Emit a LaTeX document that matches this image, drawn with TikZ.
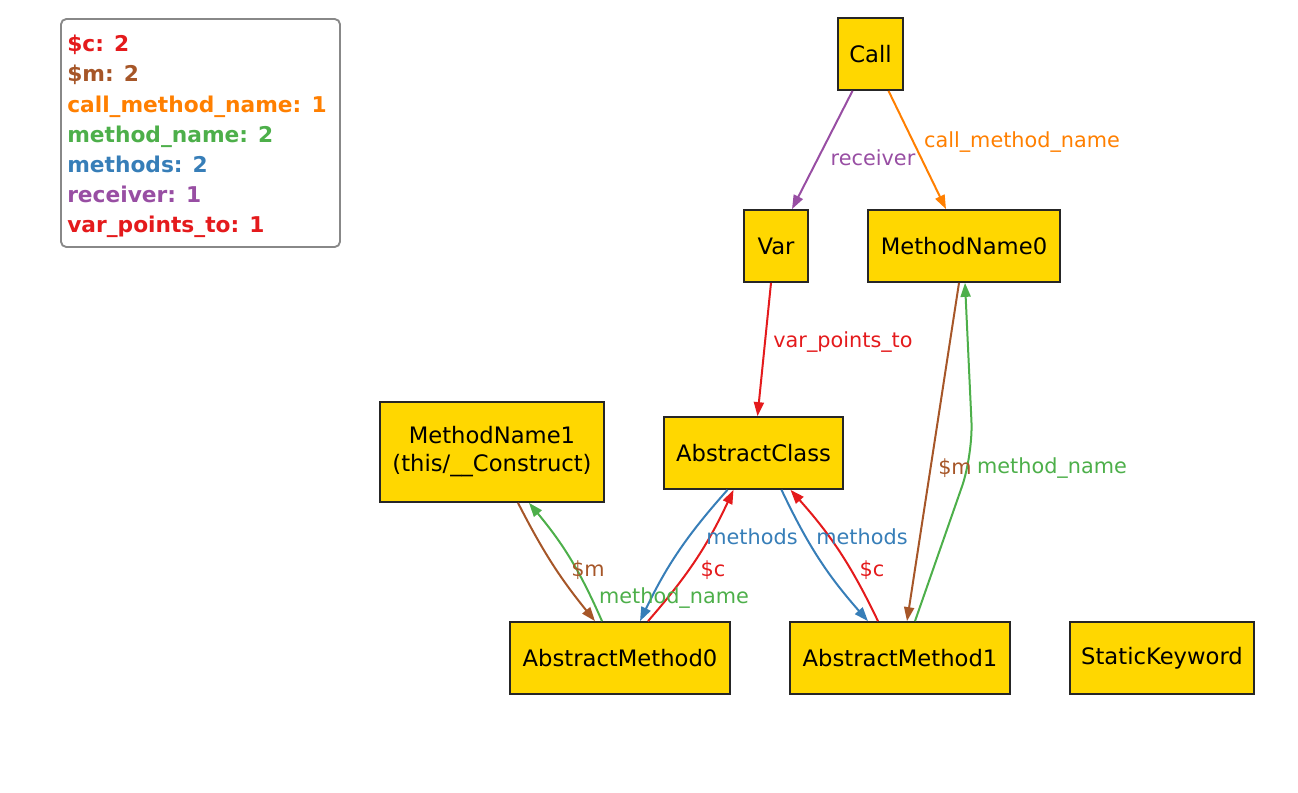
\documentclass[tikz,border=0pt]{standalone}
\usepackage{fontspec}
\setmainfont{DejaVu Sans}
\usetikzlibrary{arrows.meta,calc}
\definecolor{cred}{HTML}{E41A1C}
\definecolor{cbrown}{HTML}{A65628}
\definecolor{corange}{HTML}{FF7F00}
\definecolor{cgreen}{HTML}{4DAF4A}
\definecolor{cblue}{HTML}{377EB8}
\definecolor{cpurple}{HTML}{984EA3}
\definecolor{cgold}{HTML}{FFD700}
\definecolor{cgray}{HTML}{888888}
\tikzset{
  box/.style={draw=black!85, fill=cgold, line width=1.3pt, inner sep=0pt, align=center,
    font=\fontsize{17}{21}\selectfont},
  edge/.style={line width=1.5pt, -{Triangle[length=10.5pt,width=7.5pt]}},
  lbl/.style={inner sep=0pt, font=\fontsize{15.6}{18}\selectfont},
  legtxt/.style={inner sep=0pt, anchor=base west, font=\bfseries\fontsize{16.3}{19}\selectfont},
}
\begin{document}
\begin{tikzpicture}[x=0.75pt,y=-0.75pt]
\useasboundingbox (0,0) rectangle (1298,792);
% legend
\node[draw=cgray, line width=1.4pt, rounded corners=4pt, minimum width=209.25pt, minimum height=171pt, inner sep=0pt] (legend) at (200.5,133) {};
\node[legtxt, text=cred] (l1) at (67,52) {\$c: 2};
\node[legtxt, text=cbrown] (l2) at (67,82) {\$m: 2};
\node[legtxt, text=corange] (l3) at (67,112) {call\_method\_name: 1};
\node[legtxt, text=cgreen] (l4) at (67,142) {method\_name: 2};
\node[legtxt, text=cblue] (l5) at (67,172) {methods: 2};
\node[legtxt, text=cpurple] (l6) at (67,202) {receiver: 1};
\node[legtxt, text=cred] (l7) at (67,232) {var\_points\_to: 1};
% nodes
\node[box, minimum width=48.75pt, minimum height=54pt] (call) at (870.5,54) {Call};
\node[box, minimum width=48pt, minimum height=54pt] (var) at (776,246) {Var};
\node[box, minimum width=144pt, minimum height=54pt] (mn0) at (964,246) {MethodName0};
\node[box, minimum width=134.25pt, minimum height=54pt] (ac) at (753.5,453) {AbstractClass};
\node[box, minimum width=168pt, minimum height=75pt] (mn1) at (492,452) {MethodName1\\(this/\_\_Construct)};
\node[box, minimum width=165pt, minimum height=54pt] (am0) at (620,658) {AbstractMethod0};
\node[box, minimum width=165pt, minimum height=54pt] (am1) at (900,658) {AbstractMethod1};
\node[box, minimum width=138pt, minimum height=54pt] (sk) at (1162,658) {StaticKeyword};
% edges
\draw[edge, cpurple] ($(call.south)+(-18,0)$) -- ($(var.north)+(16,0)$);
\draw[edge, corange] ($(call.south)+(18,0)$) -- ($(mn0.north)+(-18,0)$);
\draw[edge, cred] ($(var.south)+(-5,0)$) -- ($(ac.north)+(4,0)$);
\draw[edge, cbrown] ($(mn0.south)+(-5,0)$) -- ($(am1.north)+(7,0)$);
\draw[edge, cgreen, rounded corners=25pt] ($(am1.north)+(15,0)$) -- ($(mn0.south)+(9,172)$) -- ($(mn0.south)+(1,0)$);
\draw[edge, cblue] ($(ac.south)+(-26,0)$) to[bend right=8] ($(am0.north)+(20,0)$);
\draw[edge, cred] ($(am0.north)+(28,0)$) to[bend right=8] ($(ac.south)+(-20,0)$);
\draw[edge, cblue] ($(ac.south)+(28,0)$) to[bend right=8] ($(am1.north)+(-32,0)$);
\draw[edge, cred] ($(am1.north)+(-22,0)$) to[bend right=8] ($(ac.south)+(37,0)$);
\draw[edge, cbrown] ($(mn1.south)+(26,0)$) to[bend right=6] ($(am0.north)+(-25,0)$);
\draw[edge, cgreen] ($(am0.north)+(-18,0)$) to[bend right=8] ($(mn1.south)+(37,0)$);
% labels
\node[lbl, text=cpurple] (t1) at (873,158) {receiver};
\node[lbl, text=corange] (t2) at (1022,142) {call\_method\_name};
\node[lbl, text=cred] (t3) at (843,342) {var\_points\_to};
\node[lbl, text=cbrown] (t4) at (955,468) {\$m};
\node[lbl, text=cgreen] (t5) at (1052,468) {method\_name};
\node[lbl, text=cblue] (t6) at (752,537) {methods};
\node[lbl, text=cblue] (t7) at (862,537) {methods};
\node[lbl, text=cred] (t8) at (713,570) {\$c};
\node[lbl, text=cred] (t9) at (872,570) {\$c};
\node[lbl, text=cbrown] (t10) at (588,570) {\$m};
\node[lbl, text=cgreen] (t11) at (674,598) {method\_name};
\end{tikzpicture}
\end{document}
